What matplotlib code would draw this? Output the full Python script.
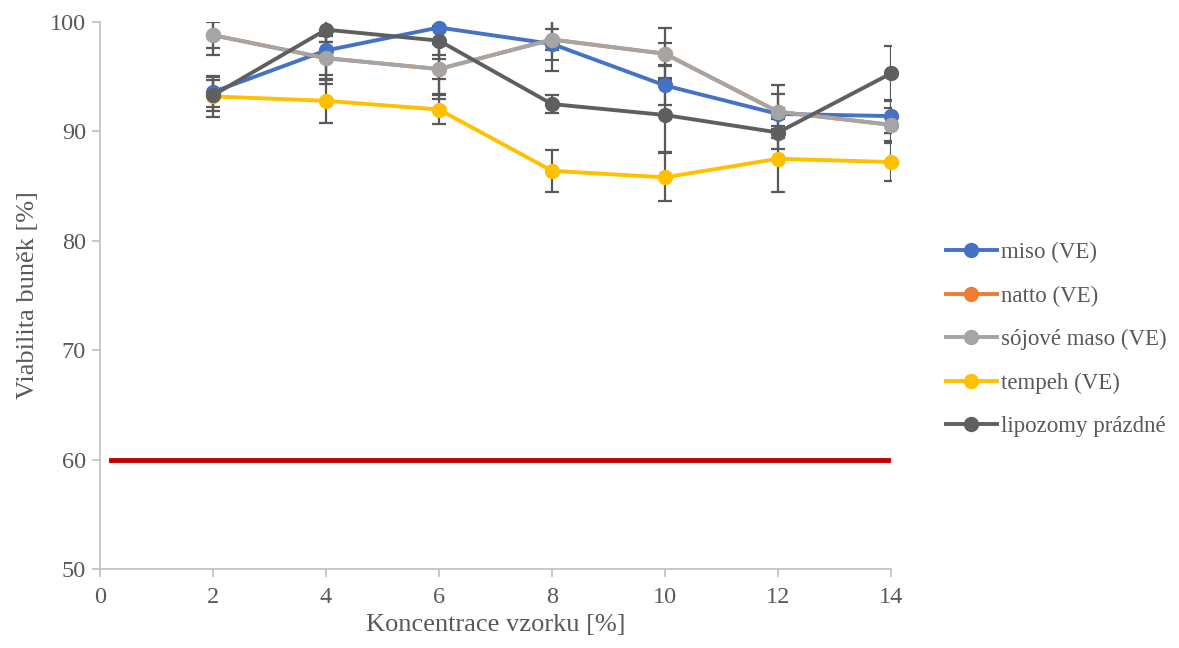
import numpy as np
import matplotlib.pyplot as plt

plt.rcParams['font.family'] = ['Liberation Serif', 'DejaVu Serif']

konc = [2, 4, 6, 8, 10, 12, 14]

miso = [93.6, 97.4, 99.5, 98.0, 94.2, 91.6, 91.4]
natto = [98.8, 96.7, 95.7, 98.4, 97.1, 91.8, 90.6]
soja = [98.8, 96.7, 95.7, 98.4, 97.1, 91.8, 90.6]
tempeh = [93.2, 92.8, 92.0, 86.4, 85.8, 87.5, 87.2]
lipozomy = [93.3, 99.3, 98.3, 92.5, 91.5, 89.9, 95.3]

miso_err = [1.4, 3.1, 6.5, 2.5, 1.8, 0.5, 1.5]
natto_err = [1.8, 2.0, 2.3, 1.9, 2.4, 2.4, 1.5]
soja_err = [1.2, 1.5, 0.9, 1.0, 1.0, 1.6, 0.7]
tempeh_err = [1.9, 2.0, 1.3, 1.9, 2.2, 3.0, 1.7]
lipozomy_err = [1.4, 1.1, 1.3, 0.8, 3.4, 1.5, 2.5]

limit_x = [0.2, 14]
limit_y = [60, 60]

series = [
    ('miso (VE)', miso, miso_err, '#4472C4'),
    ('natto (VE)', natto, natto_err, '#ED7D31'),
    ('sójové maso (VE)', soja, soja_err, '#A5A5A5'),
    ('tempeh (VE)', tempeh, tempeh_err, '#FFC000'),
    ('lipozomy prázdné', lipozomy, lipozomy_err, '#5F5F5F'),
]

fig = plt.figure(figsize=(11.79, 6.48), dpi=100)
ax = fig.add_axes([0.0848, 0.122, 0.6709, 0.844])

for name, vals, err, col in series:
    ax.errorbar(konc, vals, yerr=err, fmt='none', ecolor='#595959',
                elinewidth=1.6, capsize=5, capthick=1.6, zorder=2)
    ax.plot(konc, vals, color=col, lw=2.8, marker='o', markersize=10,
            label=name, zorder=3, clip_on=False)

ax.plot(limit_x, limit_y, color='#C00000', lw=3.5, zorder=1)

ax.set_xlim(0, 14)
ax.set_ylim(50, 100)
ax.set_xticks(range(0, 15, 2))
ax.set_yticks(range(50, 101, 10))

for s in ['top', 'right']:
    ax.spines[s].set_visible(False)
for s in ['left', 'bottom']:
    ax.spines[s].set_color('#BFBFBF')
    ax.spines[s].set_linewidth(1.2)
ax.tick_params(axis='both', colors='#BFBFBF', labelcolor='#595959',
               labelsize=17.5, length=6, width=1.2)
ax.tick_params(axis='y', pad=4)
ax.tick_params(axis='x', pad=7)

ax.set_xlabel('Koncentrace vzorku [%]', fontsize=19, color='#595959', labelpad=4)
ax.set_ylabel('Viabilita buněk [%]', fontsize=19, color='#595959', labelpad=8)

leg = fig.legend(loc='center left', bbox_to_anchor=(0.785, 0.476), frameon=False,
                 fontsize=16.5, handlelength=2.2, labelspacing=0.98, handletextpad=0.2,
                 labelcolor='#595959')

fig.savefig('out.png', dpi=100)
